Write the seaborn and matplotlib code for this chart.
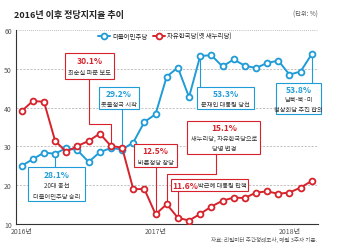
import numpy as np
import pandas as pd
import seaborn as sns
import matplotlib.pyplot as plt
from matplotlib.patches import Rectangle
from matplotlib.lines import Line2D

# 리얼미터 월별 정당지지율 (2016.1 ~ 2018.3)
months = list(range(27))
minjoo = [25.0, 26.7, 28.4, 28.1, 29.6, 29.0, 26.0, 28.5, 29.6, 29.2, 31.0, 36.3, 38.3, 48.0,
          50.3, 42.7, 53.3, 53.5, 50.6, 52.4, 50.8, 50.2, 51.5, 52.1, 48.5, 49.3, 53.8]
hankook = [39.1, 41.7, 41.5, 31.4, 28.6, 30.1, 31.4, 33.3, 30.1, 29.7, 19.0, 19.0, 12.5, 15.1,
           11.6, 10.9, 12.6, 14.5, 16.0, 16.8, 16.7, 18.1, 18.4, 17.8, 18.1, 19.4, 21.1]
year_ticks = [0, 12, 24]
year_labels = ['2016년', '2017년', '2018년']
party_names = ['더불어민주당', '자유한국당(옛 새누리당)']

BLUE = '#1f9cd8'
RED = '#d7222b'
DARK = '#333333'
PCT_SIZE = 6.1

sns.set_theme(style='white')
plt.rcParams['font.family'] = ['Noto Sans CJK KR', 'DejaVu Sans']

df = pd.DataFrame({'month': months, 'minjoo': minjoo, 'hankook': hankook})

fig = plt.figure(figsize=(3.4, 2.51), dpi=100)
ax = fig.add_axes([0.047, 0.1036, 0.888, 0.7729])

line_kw = dict(marker='o', markersize=4.2, markerfacecolor='white', markeredgewidth=1.3,
               linewidth=1.4)
sns.lineplot(data=df, x='month', y='minjoo', color=BLUE, markeredgecolor=BLUE, ax=ax,
             zorder=3, **line_kw)
sns.lineplot(data=df, x='month', y='hankook', color=RED, markeredgecolor=RED, ax=ax,
             zorder=4, **line_kw)

ax.set_xlim(-0.51, 26.55)
ax.set_ylim(10, 60)
ax.set_xlabel('')
ax.set_ylabel('')
ax.set_yticks([10, 20, 30, 40, 50, 60])
ax.set_xticks(year_ticks + [26.5])
ax.set_xticklabels(year_labels + [''])
ax.tick_params(axis='y', length=0, pad=3, labelsize=5, labelcolor='#555555')
ax.tick_params(axis='x', direction='in', length=3, width=0.6, color=DARK, pad=2,
               labelsize=5, labelcolor='#555555')
for y in [20, 30, 40, 50]:
    ax.axhline(y, color='#aaaaaa', lw=0.5, ls=(0, (3, 2)), zorder=1)
ax.axhline(60, color='#aaaaaa', lw=0.6, ls=(0, (1, 1.5)), zorder=1)
for s in ['top', 'right']:
    ax.spines[s].set_visible(False)
for s in ['left', 'bottom']:
    ax.spines[s].set_color(DARK)
    ax.spines[s].set_linewidth(0.8)


def box(x0, x1, y0, y1, color, pct, lines):
    ax.add_patch(Rectangle((x0, y0), x1 - x0, y1 - y0, facecolor='white', edgecolor=color,
                           lw=0.8, zorder=6, clip_on=False))
    n = len(lines) + 1
    h = (y1 - y0)
    cx = (x0 + x1) / 2
    top = y1 - h * 0.27 if n == 2 else y1 - h * 0.2
    step = (top - (y0 + h * (0.25 if n == 2 else 0.17))) / (n - 1)
    ax.text(cx, top, pct, ha='center', va='center', fontsize=PCT_SIZE, fontweight='bold',
            color=color, zorder=7)
    for k, t in enumerate(lines):
        ax.text(cx, top - step * (k + 1), t, ha='center', va='center', fontsize=4.5,
                color=DARK, zorder=7)


def conn(xs, ys, color):
    ax.plot(xs, ys, color=color, lw=0.8, zorder=2, solid_capstyle='butt')


# 주요 사건 주석
box(3.9, 8.24, 47.4, 54.0, RED, '30.1%', ['최순실 파문 보도'])
conn([6.0, 6.0, 8, 8], [47.4, 35.9, 35.9, hankook[8]], RED)

box(6.89, 10.49, 39.64, 45.23, BLUE, '29.2%', ['촛불정국 시작'])
conn([9, 9], [39.64, minjoo[9]], BLUE)

box(0.59, 5.69, 16.0, 24.6, BLUE, '28.1%', ['20대 총선', '더불어민주당 승리'])
conn([3, 3], [24.6, minjoo[3]], BLUE)

box(10.04, 13.94, 24.6, 30.6, RED, '12.5%', ['바른정당 창당'])
conn([12, 12], [24.6, hankook[12]], RED)

box(15.68, 20.84, 39.64, 45.23, BLUE, '53.3%', ['문재인 대통령 당선'])
conn([16, 16], [45.23, minjoo[16]], BLUE)

box(14.84, 21.38, 28.04, 36.47, RED, '15.1%', ['새누리당, 자유한국당으로', '당명 변경'])
conn([17.4, 17.4, 13, 13], [28.04, 22.9, 22.9, hankook[13]], RED)

ax.add_patch(Rectangle((13.34, 18.5), 6.93, 3.1, facecolor='white', edgecolor=RED, lw=0.8,
                       zorder=6))
ax.text(13.5, 20.05, '11.6%', ha='left', va='center', fontsize=PCT_SIZE, fontweight='bold',
        color=RED, zorder=7)
ax.text(15.8, 20.05, '박근혜 대통령 탄핵', ha='left', va='center', fontsize=4.5, color=DARK,
        zorder=7)
conn([14, 14], [18.5, hankook[14]], RED)

box(22.79, 26.84, 38.35, 46.26, BLUE, '53.8%', ['남북-북·미', '정상회담 추진 합의'])
conn([26, 26], [46.26, minjoo[26]], BLUE)

# 범례
handles = [Line2D([], [], color=c, marker='o', markersize=4.2, markerfacecolor='white',
                  markeredgecolor=c, markeredgewidth=1.3, lw=1.4) for c in [BLUE, RED]]
ax.legend(handles, party_names, loc='center left', bbox_to_anchor=(0.262, 0.969), ncol=2,
          frameon=False, fontsize=4.6, handlelength=1.9, handletextpad=0.4,
          columnspacing=0.8, borderaxespad=0)

fig.text(0.042, 0.94, '2016년 이후 정당지지율 추이', fontsize=6.5, fontweight='bold',
         color='#222222', va='center', ha='left')
fig.text(0.935, 0.94, '(단위: %)', fontsize=4.5, color='#555555', va='center', ha='right')
fig.text(0.932, 0.044, '자료: 리얼미터 주간정례조사, 매월 3주차 기준.', fontsize=4,
         color='#555555', va='center', ha='right')

fig.savefig('out.png', dpi=100)
